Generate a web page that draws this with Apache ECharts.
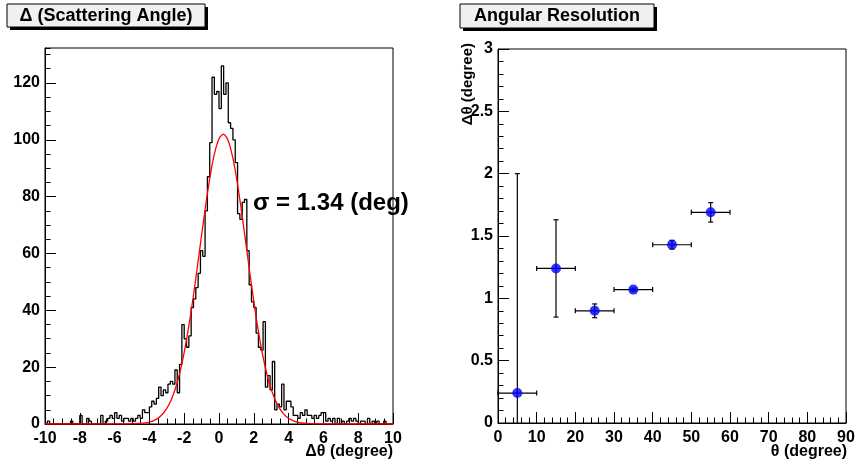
<!DOCTYPE html>
<html><head><meta charset="utf-8">
<script src="https://cdn.jsdelivr.net/npm/echarts@6/dist/echarts.min.js"></script>
<style>html,body{margin:0;padding:0;background:#fff}#c{width:856px;height:469px}</style>
</head><body><div id="c"></div>
<script>
// ---- Left panel: histogram of delta theta (150 bins from -10 to 10) ----
const histRange = [-10, 10];
const histCounts = [
  0,1,0,0,0,0,0,0,0,0,
  0,1,0,0,0,3,0,0,2,1,
  0,0,0,0,3,0,1,2,3,2,
  4,2,3,1,2,2,1,2,1,2,
  3,2,5,4,4,6,8,7,9,13,
  10,12,11,14,15,14,19,11,21,35,
  30,27,31,41,44,48,53,61,59,75,
  87,99,122,116,117,111,126,116,120,106,
  104,100,92,74,72,78,79,61,49,43,
  41,32,27,26,36,13,17,12,22,5,
  7,6,14,5,8,8,6,3,3,2,
  4,3,5,3,3,2,3,2,3,4,
  4,1,2,1,2,0,2,0,1,0,
  1,2,1,2,1,0,1,1,0,2,
  0,1,0,1,0,0,1,0,0,0
];
// red fit curve
const fitX = [-10,-6,-4.5,-4.25,-4,-3.75,-3.5,-3.25,-3,-2.75,-2.5,-2.25,-2,-1.75,-1.5,-1.25,-1,-0.75,-0.5,-0.25,0,0.25,0.5,0.75,1,1.25,1.5,1.75,2,2.25,2.5,2.75,3,3.25,3.5,3.75,4,4.25,4.5,4.75,5,6,10];
const fitY = [0,0.01,0.2,0.37,0.68,1.21,2.07,3.43,5.48,8.46,12.6,18.1,25.2,33.9,43.9,55.0,66.5,77.6,87.6,95.4,100.4,102.0,100.1,94.9,86.9,76.8,65.6,54.1,43.1,33.1,24.6,17.6,12.2,8.2,5.3,3.3,2.0,1.16,0.65,0.35,0.19,0.01,0];
const leftYMax = 132.3;
const sigmaText = '\u03c3 = 1.34 (deg)';

// ---- Right panel: angular resolution ----
const thetaVals = [5, 15, 25, 35, 45, 55];
const thetaErr  = [5, 5, 5, 5, 5, 5];
const resVals   = [0.24, 1.24, 0.90, 1.07, 1.43, 1.69];
const resErr    = [1.76, 0.39, 0.055, 0.012, 0.035, 0.078];

const titleLeft = '\u0394 (Scattering Angle)';
const titleRight = 'Angular Resolution';
const xNameLeft = '\u0394\u03b8 (degree)';
const xNameRight = '\u03b8 (degree)';
const yNameRight = '\u0394\u03b8 (degree)';

const FONT = 'Liberation Sans, Arial, Helvetica, sans-serif';
const nb = histCounts.length;
const bw = (histRange[1] - histRange[0]) / nb;
const histData = histCounts.map((c, k) => [histRange[0] + k * bw, c]);
histData.push([histRange[1], histCounts[nb - 1]]);
const fitData = fitX.map((x, i) => [x, fitY[i]]);
const errData = thetaVals.map((t, i) => [t, resVals[i], thetaErr[i], resErr[i]]);
const ptData = thetaVals.map((t, i) => [t, resVals[i]]);

const labelStyle = { color: '#000', fontFamily: FONT, fontWeight: 'bold', fontSize: 16 };
function axisCommon(extra) {
  return Object.assign({
    axisLine: { show: true, onZero: false, lineStyle: { color: '#000', width: 1 } },
    splitLine: { show: false },
  }, extra);
}

const chart = echarts.init(document.getElementById('c'), null, { renderer: 'canvas' });
chart.setOption({
  backgroundColor: '#fff',
  animation: false,
  grid: [
    { left: 45, top: 48, width: 348, height: 376, show: true, borderColor: '#000', borderWidth: 1, backgroundColor: 'transparent', containLabel: false, outerBoundsMode: 'none' },
    { left: 498, top: 49, width: 348, height: 374, show: true, borderColor: '#000', borderWidth: 1, backgroundColor: 'transparent', containLabel: false, outerBoundsMode: 'none' }
  ],
  xAxis: [
    axisCommon({ type: 'value', gridIndex: 0, min: -10, max: 10, interval: 2,
      axisTick: { inside: true, length: 11, lineStyle: { color: '#000' } },
      minorTick: { show: true, splitNumber: 4, length: 5.5, lineStyle: { color: '#000' } },
      axisLabel: Object.assign({ margin: 7, showMinLabel: true, showMaxLabel: true }, labelStyle)
    }),
    axisCommon({ type: 'value', gridIndex: 1, min: 0, max: 90, interval: 10,
      axisTick: { inside: true, length: 11, lineStyle: { color: '#000' } },
      minorTick: { show: true, splitNumber: 5, length: 5.5, lineStyle: { color: '#000' } },
      axisLabel: Object.assign({ margin: 7, showMinLabel: true, showMaxLabel: true }, labelStyle)
    })
  ],
  yAxis: [
    axisCommon({ type: 'value', gridIndex: 0, min: 0, max: leftYMax, interval: 20,
      axisTick: { inside: true, length: 11, lineStyle: { color: '#000' } },
      axisLabel: Object.assign({ margin: 5, showMaxLabel: false }, labelStyle)
    }),
    axisCommon({ type: 'value', gridIndex: 0, min: 0, max: leftYMax, interval: 5, position: 'left',
      axisLine: { show: false, onZero: false },
      axisTick: { inside: true, length: 5.5, lineStyle: { color: '#000' } },
      axisLabel: { show: false }
    }),
    axisCommon({ type: 'value', gridIndex: 1, min: 0, max: 3, interval: 0.5,
      axisTick: { inside: true, length: 11, lineStyle: { color: '#000' } },
      minorTick: { show: true, splitNumber: 5, length: 5.5, lineStyle: { color: '#000' } },
      axisLabel: Object.assign({ margin: 5 }, labelStyle)
    })
  ],
  series: [
    { type: 'line', xAxisIndex: 0, yAxisIndex: 0, data: histData, step: 'end', symbol: 'none',
      lineStyle: { color: '#000', width: 1.3 }, z: 3 },
    { type: 'line', xAxisIndex: 0, yAxisIndex: 0, data: fitData, smooth: 0.25, symbol: 'none',
      lineStyle: { color: '#ff0000', width: 1.3 }, z: 4 },
    { type: 'custom', xAxisIndex: 1, yAxisIndex: 2, data: errData, z: 3,
      renderItem: function (params, api) {
        const x = api.value(0), y = api.value(1), ex = api.value(2), ey = api.value(3);
        const l = api.coord([x - ex, y]), r = api.coord([x + ex, y]);
        const lowV = Math.max(y - ey, 0);
        const t = api.coord([x, y + ey]), b = api.coord([x, lowV]);
        const cap = 2.5;
        const st = { stroke: '#000', lineWidth: 1.2 };
        const ch = [
          { type: 'line', shape: { x1: l[0], y1: l[1], x2: r[0], y2: r[1] }, style: st },
          { type: 'line', shape: { x1: l[0], y1: l[1] - cap, x2: l[0], y2: l[1] + cap }, style: st },
          { type: 'line', shape: { x1: r[0], y1: r[1] - cap, x2: r[0], y2: r[1] + cap }, style: st },
          { type: 'line', shape: { x1: t[0], y1: t[1], x2: b[0], y2: b[1] }, style: st },
          { type: 'line', shape: { x1: t[0] - cap, y1: t[1], x2: t[0] + cap, y2: t[1] }, style: st }
        ];
        if (y - ey >= 0) ch.push({ type: 'line', shape: { x1: b[0] - cap, y1: b[1], x2: b[0] + cap, y2: b[1] }, style: st });
        return { type: 'group', children: ch };
      }
    },
    { type: 'scatter', xAxisIndex: 1, yAxisIndex: 2, data: ptData, symbol: 'circle', symbolSize: 10,
      itemStyle: { color: '#0000ff' }, z: 5 }
  ],
  graphic: [
    { type: 'rect', shape: { x: 10, y: 7, width: 198, height: 23 }, style: { fill: '#000' }, z: 10 },
    { type: 'rect', shape: { x: 7, y: 4, width: 198, height: 23 }, style: { fill: '#f0f0f0', stroke: '#000', lineWidth: 1 }, z: 11 },
    { type: 'text', x: 106, y: 16, style: { text: titleLeft, fill: '#000', font: 'bold 18px ' + FONT, align: 'center', verticalAlign: 'middle' }, z: 12 },
    { type: 'rect', shape: { x: 463, y: 7, width: 194, height: 24 }, style: { fill: '#000' }, z: 10 },
    { type: 'rect', shape: { x: 460, y: 4, width: 194, height: 24 }, style: { fill: '#f0f0f0', stroke: '#000', lineWidth: 1 }, z: 11 },
    { type: 'text', x: 557, y: 16.5, style: { text: titleRight, fill: '#000', font: 'bold 18px ' + FONT, align: 'center', verticalAlign: 'middle' }, z: 12 },
    { type: 'text', x: 253, y: 203, style: { text: sigmaText, fill: '#000', font: 'bold 24px ' + FONT, align: 'left', verticalAlign: 'middle' }, z: 12 },
    { type: 'text', x: 393, y: 452, style: { text: xNameLeft, fill: '#000', font: 'bold 16px ' + FONT, align: 'right', verticalAlign: 'middle' }, z: 12 },
    { type: 'text', x: 847, y: 452, style: { text: xNameRight, fill: '#000', font: 'bold 16px ' + FONT, align: 'right', verticalAlign: 'middle' }, z: 12 },
    { type: 'text', x: 468, y: 43, rotation: Math.PI / 2, style: { text: yNameRight, fill: '#000', font: 'bold 15px ' + FONT, align: 'right', verticalAlign: 'middle' }, z: 12 }
  ]
});
</script></body></html>
